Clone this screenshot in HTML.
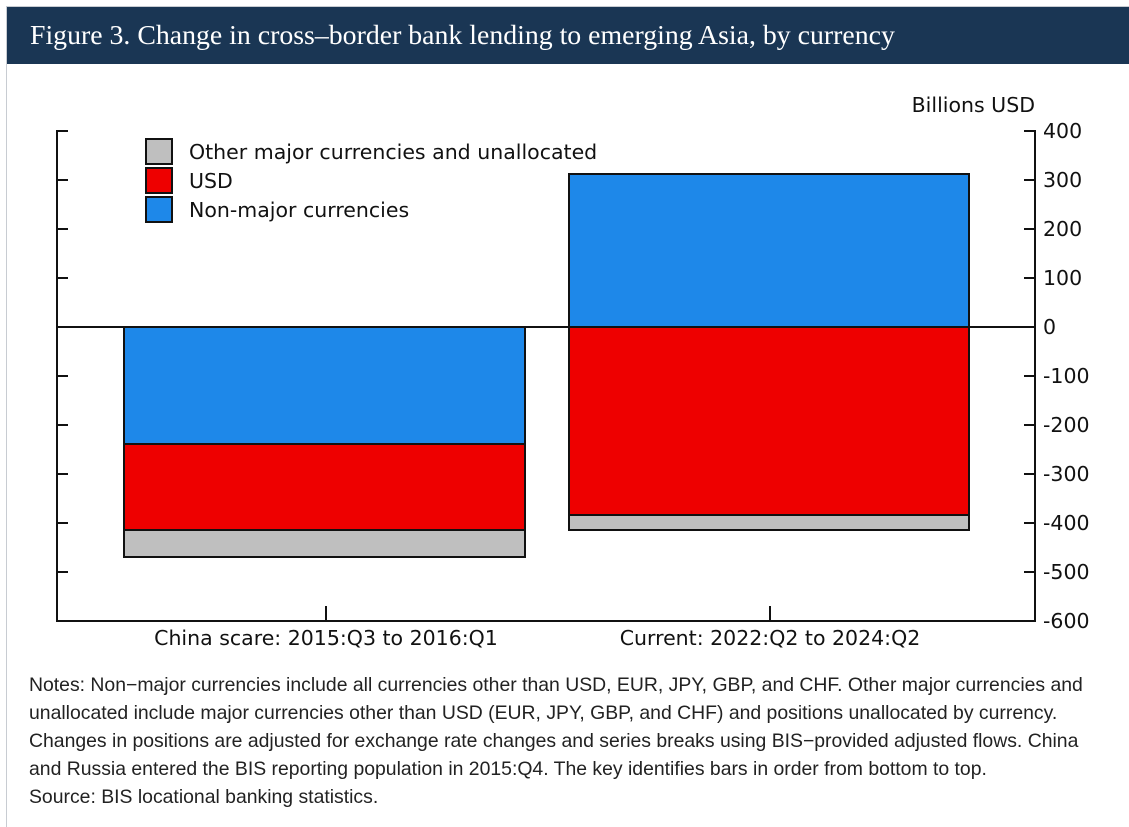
<!DOCTYPE html>
<html><head><meta charset="utf-8"><style>
body{margin:0;width:1129px;height:806px;background:#fff;overflow:hidden;position:relative;font-family:"Liberation Sans",sans-serif}
.frame{position:absolute;left:6px;top:6px;width:1130px;height:820px;border-left:1px solid #c8ccd2;border-top:1px solid #c8ccd2}
.hdr{position:absolute;left:7px;top:7px;width:1122px;height:57px;background:#1a3654;color:#fff;font-family:"Liberation Serif",serif;font-size:27.8px;line-height:57px;padding-left:23px;box-sizing:border-box;white-space:nowrap}
.notes{position:absolute;left:29px;top:671px;width:1100px;font-size:19.4px;line-height:28px;color:#222;white-space:nowrap}
</style></head><body>
<div class="frame"></div>
<div class="hdr">Figure 3. Change in cross–border bank lending to emerging Asia, by currency</div>
<svg style="position:absolute;left:0;top:0" width="1129" height="670" font-family="DejaVu Sans, sans-serif" font-size="20.5" fill="#111">
<g stroke="#111" stroke-width="2">
<rect x="124" y="327" width="401" height="117" fill="#1e88e9"/>
<rect x="124" y="444" width="401" height="86" fill="#ee0000"/>
<rect x="124" y="530" width="401" height="27" fill="#bfbfbf"/>
<rect x="569" y="174" width="400" height="153" fill="#1e88e9"/>
<rect x="569" y="327" width="400" height="188" fill="#ee0000"/>
<rect x="569" y="515" width="400" height="15" fill="#bfbfbf"/>
<line x1="57" y1="327" x2="1035" y2="327"/>
<polyline points="68,131 57,131 57,621 1035,621 1035,131 1024,131" fill="none"/>
<g>
<line x1="57" y1="180" x2="68" y2="180"/><line x1="57" y1="229" x2="68" y2="229"/><line x1="57" y1="278" x2="68" y2="278"/>
<line x1="57" y1="376" x2="68" y2="376"/><line x1="57" y1="425" x2="68" y2="425"/><line x1="57" y1="474" x2="68" y2="474"/><line x1="57" y1="523" x2="68" y2="523"/><line x1="57" y1="572" x2="68" y2="572"/>
<line x1="1024" y1="180" x2="1035" y2="180"/><line x1="1024" y1="229" x2="1035" y2="229"/><line x1="1024" y1="278" x2="1035" y2="278"/>
<line x1="1024" y1="376" x2="1035" y2="376"/><line x1="1024" y1="425" x2="1035" y2="425"/><line x1="1024" y1="474" x2="1035" y2="474"/><line x1="1024" y1="523" x2="1035" y2="523"/><line x1="1024" y1="572" x2="1035" y2="572"/>
<line x1="326" y1="606" x2="326" y2="621"/><line x1="770" y1="606" x2="770" y2="621"/>
</g>
<rect x="146" y="139" width="26" height="25" fill="#bfbfbf"/>
<rect x="146" y="168" width="26" height="25" fill="#ee0000"/>
<rect x="146" y="197" width="26" height="25" fill="#1e88e9"/>
</g>
<g stroke="none">
<text x="189" y="159">Other major currencies and unallocated</text>
<text x="189" y="188">USD</text>
<text x="189" y="217">Non-major currencies</text>
<text x="1035" y="112" text-anchor="end">Billions USD</text>
<g>
<text x="1043" y="138">400</text><text x="1043" y="187">300</text><text x="1043" y="236">200</text><text x="1043" y="285">100</text><text x="1043" y="334">0</text>
<text x="1043" y="383">-100</text><text x="1043" y="432">-200</text><text x="1043" y="481">-300</text><text x="1043" y="530">-400</text><text x="1043" y="579">-500</text><text x="1043" y="628">-600</text>
</g>
<text x="326" y="645" text-anchor="middle">China scare: 2015:Q3 to 2016:Q1</text>
<text x="770" y="645" text-anchor="middle">Current: 2022:Q2 to 2024:Q2</text>
</g>
</svg>
<div class="notes">Notes: Non−major currencies include all currencies other than USD, EUR, JPY, GBP, and CHF. Other major currencies and<br>unallocated include major currencies other than USD (EUR, JPY, GBP, and CHF) and positions unallocated by currency.<br>Changes in positions are adjusted for exchange rate changes and series breaks using BIS−provided adjusted flows. China<br>and Russia entered the BIS reporting population in 2015:Q4. The key identifies bars in order from bottom to top.<br>Source: BIS locational banking statistics.</div>
</body></html>
